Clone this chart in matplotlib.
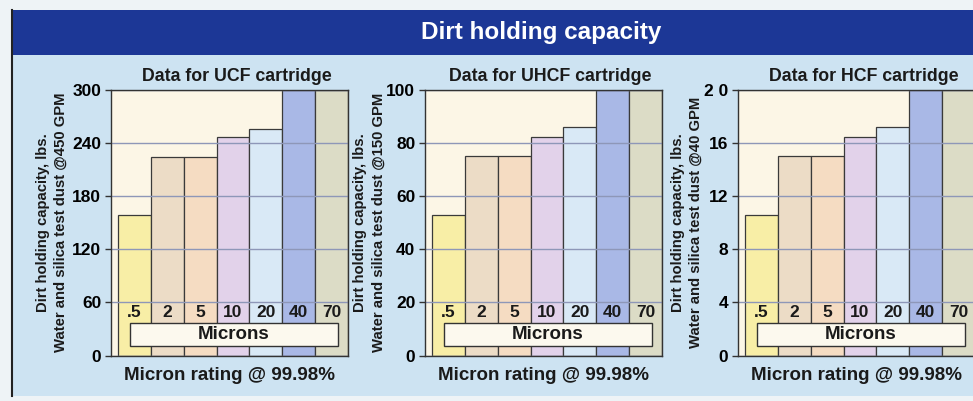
import matplotlib
matplotlib.use("Agg")
import matplotlib.pyplot as plt
from matplotlib.patches import Rectangle
from matplotlib import font_manager

# ---------------- data ----------------
categories = [".5", "2", "5", "10", "20", "40", "70"]
ucf_values = [158, 224, 224, 246, 256, 300, 300]
uhcf_values = [53, 75, 75, 82, 86, 100, 100]
hcf_values = [10.6, 15, 15, 16.4, 17.2, 20, 20]
ucf_ticks = [0, 60, 120, 180, 240, 300]
uhcf_ticks = [0, 20, 40, 60, 80, 100]
hcf_ticks = [0, 4, 8, 12, 16, 20]
hcf_ticklabels = ["0", "4", "8", "12", "16", "2 0"]
panel_titles = ["Data for UCF cartridge", "Data for UHCF cartridge", "Data for HCF cartridge"]
ylabels = ["Dirt holding capacity, lbs.\nWater and silica test dust @450 GPM",
           "Dirt holding capacity, lbs.\nWater and silica test dust @150 GPM",
           "Dirt holding capacity, lbs.\nWater and silica test dust @40 GPM"]
header = "Dirt holding capacity"
xlabel = "Micron rating @ 99.98%"
box_text = "Microns"

bar_colors = ["#f8eea6", "#ecdcc6", "#f5dcc2", "#e2d2ea", "#d9e9f6", "#a9b8e6", "#dcdcc6"]

available = {f.name for f in font_manager.fontManager.ttflist}
narrow = "Liberation Sans"
for cand in ["Liberation Sans Narrow", "DejaVu Sans Condensed"]:
    if cand in available:
        narrow = cand
        break
MAIN = ["Liberation Sans", "DejaVu Sans"]
NARROW = [narrow, "DejaVu Sans"]

W, H = 973, 401
fig = plt.figure(figsize=(W / 100, H / 100), dpi=100)
fig.patch.set_facecolor("#eef3f6")

def fx(px):
    return px / W

def fy(py):
    return 1 - py / H

# light blue panel
fig.patches.append(Rectangle((fx(12), fy(396)), fx(973 - 12), (396 - 55) / H,
                             transform=fig.transFigure, facecolor="#cde3f2",
                             edgecolor="none", zorder=-3))
# header band
fig.patches.append(Rectangle((fx(12), fy(55)), fx(973 - 12), (55 - 10) / H,
                             transform=fig.transFigure, facecolor="#1c3796",
                             edgecolor="none", zorder=-2))
# left border line
fig.add_artist(plt.Line2D([fx(12), fx(12)], [fy(396), fy(10)], transform=fig.transFigure,
                          color="#222222", lw=1.5, zorder=-1))
fig.text(fx(541), fy(33), header, color="white", fontsize=17.5, fontweight="bold",
         family=MAIN, ha="center", va="center")

panels = [
    (111, ucf_values, ucf_ticks, [str(t) for t in ucf_ticks], 300, -0.251),
    (425, uhcf_values, uhcf_ticks, [str(t) for t in uhcf_ticks], 100, -0.235),
    (738, hcf_values, hcf_ticks, hcf_ticklabels, 20, -0.215),
]
ax_top, ax_bot, ax_w = 89.5, 355.5, 237

for i, (left, vals, ticks, tlabels, ymax, ylab_x) in enumerate(panels):
    ax = fig.add_axes([fx(left), fy(ax_bot), fx(ax_w), (ax_bot - ax_top) / H])
    ax.set_facecolor("#fcf6e6")
    x = list(range(len(categories)))
    ax.bar(x, vals, width=1.0, color=bar_colors, edgecolor="#3a3a3a", linewidth=0.9, zorder=2)
    ax.set_xlim(-0.71, 6.5)
    ax.set_ylim(0, ymax)
    ax.set_yticks(ticks)
    ax.set_yticklabels(tlabels, family=NARROW, fontsize=12.5, fontweight="bold")
    ax.set_xticks([])
    ax.grid(axis="y", color="#8e97b8", lw=1.0, zorder=3)
    ax.set_axisbelow(False)
    ax.tick_params(axis="y", length=4, width=1, color="#333333", pad=3)
    for s in ax.spines.values():
        s.set_color("#333333")
        s.set_linewidth(1.0)
        s.set_zorder(4)
    # category labels inside the axes
    for xi, c in zip(x, categories):
        ax.text(xi, 0.163 * ymax, c, ha="center", va="center", fontsize=12.5,
                fontweight="bold", family=MAIN, color="#1a1a1a", zorder=5)
    # Microns box
    ax.add_patch(Rectangle((0.08, 0.035), 0.878, 0.088, transform=ax.transAxes,
                           facecolor="#fcf9ee", edgecolor="#333333", lw=1.0, zorder=6))
    ax.text(0.519, 0.079, box_text, transform=ax.transAxes, ha="center", va="center",
            fontsize=13.5, fontweight="bold", family=MAIN, color="#1a1a1a", zorder=7)
    ax.set_title(panel_titles[i], fontsize=12.8, fontweight="bold", family=MAIN,
                 color="#1a1a1a", pad=6, x=0.53)
    ax.set_ylabel(ylabels[i], fontsize=10.7, fontweight="bold", family=MAIN,
                  color="#1a1a1a", linespacing=1.35)
    ax.yaxis.set_label_coords(ylab_x, 0.5)
    ax.yaxis.label.set_va("center")
    ax.set_xlabel(xlabel, fontsize=13.5, fontweight="bold", family=MAIN,
                  color="#1a1a1a", labelpad=8)

fig.savefig("out.png", dpi=100)
